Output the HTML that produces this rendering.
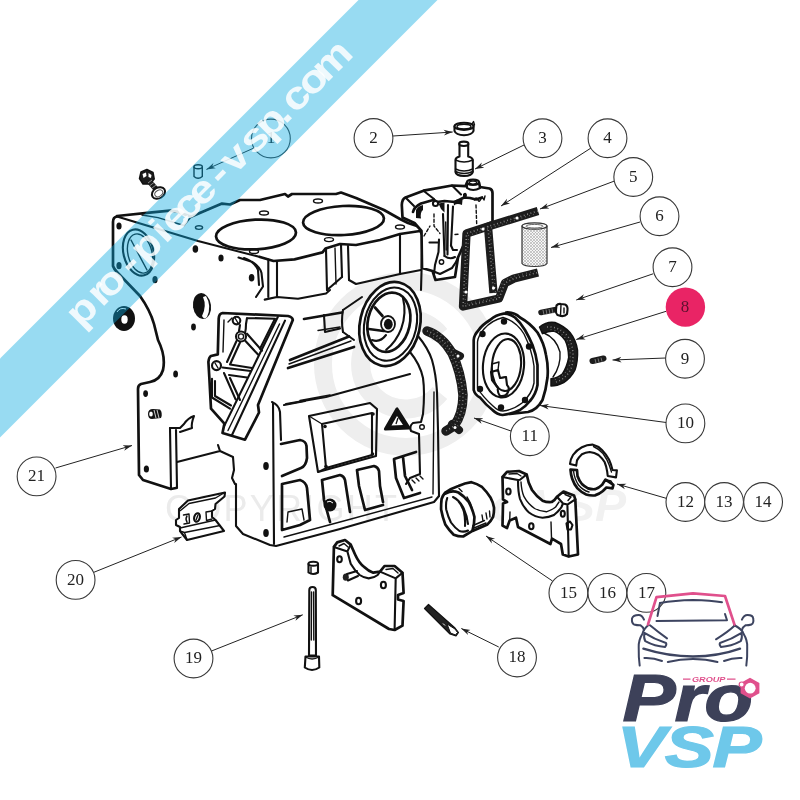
<!DOCTYPE html>
<html><head><meta charset="utf-8"><title>Bloc moteur</title>
<style>
html,body{margin:0;padding:0;background:#fff;}
body{width:800px;height:800px;overflow:hidden;position:relative;}
svg{position:absolute;left:0;top:0;display:block;will-change:transform;opacity:.999;}
.num{font-family:"Liberation Serif",serif;font-size:17px;fill:#222;text-anchor:middle;}
.c{fill:#fff;stroke:#383838;stroke-width:1.100;}
.ld{stroke:#222;stroke-width:1;fill:none;}
.k{fill:none;stroke:#111;stroke-width:2.1;stroke-linecap:round;stroke-linejoin:round;}
.k2{fill:none;stroke:#111;stroke-width:2.7;stroke-linecap:round;stroke-linejoin:round;}
.k1{fill:none;stroke:#111;stroke-width:1.4;stroke-linecap:round;stroke-linejoin:round;}
.f{fill:#111;stroke:none;}
.w{fill:#fff;}
</style></head><body>
<svg width="800" height="800" viewBox="0 0 800 800">
<defs>
<marker id="ah" viewBox="0 0 10 10" refX="10" refY="5" markerWidth="9" markerHeight="9" orient="auto" markerUnits="userSpaceOnUse"><path d="M0,1.8 L10,5 L0,8.2 L3,5 Z" fill="#222"/></marker>
</defs>

<!--WATERMARK-->
<g id="wm">
<circle cx="406" cy="364" r="83" fill="none" stroke="#eeeeee" stroke-width="18"/>
<path d="M440,335 A45,45 0 1 0 440,393" fill="none" stroke="#eeeeee" stroke-width="19"/>
<text x="165" y="520.500" style="font-family:'Liberation Sans',sans-serif;font-size:36px;fill:#ebebeb" textLength="232" lengthAdjust="spacing">COPYRIGHT</text>
<text x="442" y="520.500" style="font-family:'Liberation Sans',sans-serif;font-weight:bold;font-style:italic;font-size:44px;fill:#f1f1f1" textLength="184" lengthAdjust="spacingAndGlyphs">Pro VSP</text>
</g>

<g id="block">
<!-- left plate outline -->
<path class="k2" d="M117,216.500 Q113,217 113,222 L113,266 Q114,269 117,272 L140,296 Q150,310 154,324 L158,340 Q166,356 163,370 Q160,380 150,382 L141,384 Q138,385 138,389 L139,475 L143,480 L171,489 L176,488"/>
<path class="k" d="M117,216.500 L198,241 L260,257"/>
<path class="k2" d="M117,216 L152,212.400 L170,210.600 L177,211.500 L191,216.800 L222,203.600 L230,204.500 L240,200 L260,200 L285,194 L288,196.500 L292,194 L336,194 L341,192.500 L356,198 L384,210 L400,219 L408,223 L420,227"/>
<path class="k1" d="M142,215 L158,217.600 L184,225.500 L191,217"/>
<!-- large circle on plate -->
<ellipse class="k" cx="138.500" cy="252.500" rx="15" ry="23.500" transform="rotate(-14 138.500 252.500)"/>
<ellipse class="k1" cx="140" cy="253.500" rx="12" ry="20" transform="rotate(-14 140 253.500)"/>
<path class="k1" d="M131,240 L147,270"/>
<!-- holes on plate -->
<g class="f">
<ellipse cx="119" cy="226" rx="2.600" ry="3.600"/>
<ellipse cx="119" cy="265.700" rx="2.600" ry="3.600"/>
<ellipse cx="155" cy="279.700" rx="2.600" ry="3.600"/>
<ellipse cx="195.400" cy="249" rx="2.800" ry="3.800"/>
<ellipse cx="221" cy="258" rx="2.600" ry="3.600"/>
<ellipse cx="251.600" cy="277.700" rx="2.800" ry="3.800"/>
<ellipse cx="193.500" cy="327" rx="2.400" ry="3.400"/>
<ellipse cx="175.600" cy="374" rx="2.400" ry="3.600"/>
<ellipse cx="145.600" cy="393.600" rx="2.400" ry="3.400"/>
<ellipse cx="146.400" cy="469" rx="2.600" ry="3.600"/>
<ellipse cx="266" cy="466" rx="2.800" ry="4"/>
<ellipse cx="266" cy="533" rx="2.800" ry="4"/>
</g>
<!-- big hole -->
<ellipse cx="202" cy="306" rx="9" ry="13" fill="#111" transform="rotate(-8 202 306)"/>
<path d="M206,296 Q212,306 207,317 Q204,320 202,316 Q207,306 203,297 Z" fill="#fff"/>
<!-- seal ring outside -->
<ellipse cx="124" cy="318.500" rx="11" ry="12.500" fill="#111"/>
<ellipse cx="124.500" cy="319.500" rx="3.200" ry="4.200" fill="#fff"/>
<path d="M117,312 Q120,307 126,309" stroke="#fff" stroke-width="1" fill="none"/>
<!-- stud -->
<path class="f" d="M148,414 Q148,409 153,409 L160,409.500 Q163,413 161,418 L152,419 Q148,419 148,414 Z"/>
<ellipse cx="151" cy="414" rx="1.800" ry="2.500" fill="#fff"/>
<path d="M154,410 L156,418 M157,410 L159,418" stroke="#fff" stroke-width=".8"/>
<!-- deck holes -->
<g class="k1">
<ellipse cx="199" cy="227.600" rx="3.600" ry="1.800"/>
<ellipse cx="254" cy="251.500" rx="4.500" ry="2"/>
<ellipse cx="264" cy="213" rx="4.500" ry="2"/>
<ellipse cx="318" cy="201" rx="4.500" ry="2"/>
<ellipse cx="329" cy="239.600" rx="4.500" ry="2"/>
<ellipse cx="400" cy="227" rx="4.500" ry="2"/>
</g>
<!-- bores -->
<ellipse class="k2" cx="256" cy="234.500" rx="40" ry="14.800" transform="rotate(-3 256 234.500)"/>
<ellipse class="k2" cx="343.500" cy="220.500" rx="40.500" ry="14.500" transform="rotate(-3 343.500 220.500)"/>
<!-- deck front edge + barrels -->
<path class="k2" d="M260,257 L273.500,261 L294.500,259.400 L322.500,252.400 L325.500,248.500 L340,244 L356,245 L380,240 L400,234 L420,231"/>
<path class="k" d="M268.300,259.500 L268.300,297 M277,262 L277,296"/>
<path class="k" d="M264.700,299.600 L277,297 L298,298.700 L326,293.500 L330,290"/>
<path class="k" d="M326,249 L327,290 M341,244.500 L342,277 M348,246 L349,280"/>
<path class="k1" d="M335,248 L336,284"/>
<path class="k" d="M327,290 Q334,284 342,277 M349,280 L356,284 L400,274 M400,234 L400,274"/>
<path class="k" d="M238.500,257.600 L252.500,262 Q260,267 261.500,273 L263,286.500 L256,297 M244,258 Q255,262 258,270 L259,285"/>
</g>

<g id="block2">
<!-- right barrel right side -->
<path class="k" d="M420,231 L422.500,236 L421,290"/>
<path class="k" d="M400,274 L421,270"/>
<!-- side face ledges -->
<path class="k2" d="M304,319 L342,312.500"/>
<path class="k" d="M324,315 L325,332 L340,328.500"/>
<path class="k1" d="M318,330.500 L340,327"/>
<path class="k2" d="M290,360 L349,336.500"/>
<path class="k1" d="M289,364 L351,341"/>
<path class="k2" d="M288,368 L354,347"/>
<path class="k" d="M286,404 L326,397 L410,374"/>
<path class="k1" d="M300,400.500 L330,395"/>
<path class="k" d="M284,405 L305,401"/>
<!-- neck of filter boss -->
<path class="k" d="M343,310 L362,297 M343,332 L354,340"/>
<path class="k" d="M343,310 Q341,321 343,332"/>
<!-- oil filter boss -->
<g transform="rotate(12.800 390 324)">
<ellipse class="k2 w" cx="390" cy="324" rx="30" ry="42.500"/>
<ellipse class="k" cx="390.500" cy="324" rx="26" ry="37"/>
<ellipse class="k2" cx="388.500" cy="322.500" rx="21" ry="30"/>
<path class="k" d="M397,296 Q404,310 402,326 Q400,340 392,350"/>
</g>
<path class="k2" d="M375,307.500 L382.500,316 M368.700,329 L383.700,331"/>
<path class="k" d="M372,340 Q380,343 386,335"/>
<ellipse cx="388" cy="324" rx="7" ry="8" fill="#fff" stroke="#111" stroke-width="1.800"/>
<ellipse cx="388.300" cy="324.200" rx="4.400" ry="5.400" fill="#111"/>
<!-- timing side panel lines -->
<path class="k" d="M418,336 Q428,348 432,360 Q436,374 437,392 L438,430 L439,496"/>
<path class="k" d="M410,352 Q420,364 423,378 Q425,392 423,414 L421,422 L413,423 Q409,426 411,431 L419,434 L420,474 L410,478 L406,484"/>
<path class="k1" d="M434,392 L433,494"/>
<circle class="k1" cx="422" cy="427" r="2.300"/>
<!-- front pillar -->
<path class="k" d="M272,402 Q279,405 280,412 L281,440 M273,403 L274,544"/>
<path class="k2" d="M281,444 L300,440 Q306,441 306.500,446 L307,458 Q306,466 301,468 L282,476"/>
<path class="k2" d="M282,484 L300,480 Q306,482 307,488 L310,520 M282,484 L282,530 M282,530 L300,525 L310,520"/>
<path class="k1" d="M287,522 L288,512 L302,509 L304,520"/>
<!-- rect cover -->
<path class="k" d="M309,416 L370,403 L377,409 L376,456 L318,472 Z"/>
<path class="k" d="M322,424 L372,413 L372,455 L326,468 Z"/>
<path class="k1" d="M309,416 L322,424 M318,472 L326,468"/>
<circle class="f" cx="325" cy="426.500" r="1.800"/><circle class="f" cx="326" cy="466.500" r="1.800"/>
<circle class="f" cx="373" cy="414" r="1.800"/><circle class="f" cx="372.500" cy="454" r="1.800"/>
<!-- warning triangle -->
<path d="M397,409 L385.500,429 L409,428 Z" fill="#111" stroke="#111" stroke-width="3.200" stroke-linejoin="round"/>
<path d="M397,416 L391.500,425.500 L403,425 Z" fill="#fff"/>
<path d="M398,418 L396,424" stroke="#111" stroke-width="1.300"/>
<!-- pockets -->
<path class="k2" d="M322,480 L340,475 Q344,476 345,480 L350,512 M322,480 L324,500 L330,522"/>
<circle cx="330" cy="505" r="6.500" fill="#111"/><path d="M327,502 Q330,500 333,503" stroke="#fff" stroke-width="1" fill="none"/>
<path class="k2" d="M357,470 L374,466 Q378,467 379,471 L380,486 L383,502 M357,470 L359,486 L365,510 L383,505"/>
<path class="k2" d="M394,459 L416,452 M394,459 L396,478 L404,498 L420,493 M403,457 L405,476 L412,490"/>
<path class="k1" d="M412,480 L415,483 M416,478 L419,481 M420,476 L423,479"/>
<!-- bottom edges -->
<path class="k" d="M236,484 L236,526 L243,534 L270,545 L276,546 L340,529 L434,502 L439,496"/>
<path class="k1" d="M284,537 L340,522 L432,497"/>
<!-- lower-left of block (step) -->
<path class="k" d="M177,462 L220,451 L218,445 M220,451 L233,457 L234,470 L232,478 L235,484"/>
<path class="k" d="M170,428 L171,489 M176,430 L177,488"/>
<path class="k" d="M170,428 L180,428 L184,424 Q188,418 194,416 Q191,424 192,428 L180,432"/>
</g>

<g id="bracket">
<path class="k2 w" d="M222.500,313 L288,316 Q292.500,317 292.800,320 L258,405 L259,412.500 L245,439.700 L222.500,433 L224.400,423.700 L211,408.700 L209.400,378.700 L208.400,362 Q209,357 211,356 L217.800,354.400 L218.700,318.700 Q219,313.500 222.500,313 Z"/>
<path class="k" d="M277.800,317 L224.400,425.600 M285,320.600 L232,435"/>
<path class="k1" d="M279.500,324 L228,430.500"/>
<path class="k" d="M247,318 L275,318.700 L260,348.700 M247,318 L246,324"/>
<path class="k1" d="M224,320 L223,352 M228,322 L232,318"/>
<circle class="k" cx="236.500" cy="320.600" r="3.800"/><path class="k1" d="M235,318 L238,323"/>
<circle class="k" cx="241" cy="336.500" r="5"/><circle class="k1" cx="241" cy="336.500" r="2.600"/>
<circle class="k" cx="216.500" cy="365.600" r="4.500"/><path class="k1" d="M215,363 L218,368"/>
<path class="k" d="M240,325 L239,331 M246,324 Q246,330 245,333"/>
<path class="k" d="M247,333.700 L262,350.600 M245,340.500 L258,354.500"/>
<path class="k" d="M236.500,341 L227,362 M240,342.500 L230,364.500 L252,368"/>
<path class="k" d="M222.500,367.500 L250.600,371 M224,373 L235.600,399.400 M229,375 L247,377.500 M230,378 L240,400"/>
<path class="k" d="M212,378.700 L212,397.500 L230,408.700 M215,381 L215,396 L231,405.500"/>
</g>

<g id="cover">
<!-- clip 2 -->
<path class="k w" d="M454.500,126.500 L454.500,131 Q456,135 464,135.200 Q472,135 473.500,131 L473.500,126.500"/>
<ellipse class="k w" cx="464" cy="126.300" rx="9.500" ry="3.600"/>
<ellipse class="k1" cx="464" cy="126.600" rx="7" ry="2.300"/>
<path class="k1" d="M472,124 L473.500,121.500 L474.500,125"/>
<!-- plug 3 -->
<path class="k w" d="M459.500,144 L459.500,156.500 Q455.500,157.500 455.500,160 L455.500,172 Q456,175.800 464,176 Q472,175.800 472.800,172 L472.800,160 Q472.500,157.500 468.200,156.500 L468.200,144"/>
<ellipse class="k w" cx="463.800" cy="143.800" rx="4.600" ry="2.200"/>
<path class="k1" d="M455.500,160 Q464,164 472.800,160 M455.500,169 Q464,173 472.800,169 M455.500,171.500 Q464,175.500 472.800,171.500"/>
<!-- cover 4 body -->
<path class="k2 w" d="M401.800,205 Q402,199 405.500,197.500 L423.500,190.700 L452,185.500 L465.500,186.200 L467,182.500 Q473,178.500 479,182.500 L480,187 L489.500,188.500 Q492.500,189.500 492.500,193 L492.500,222 L470,231 L458,257.500 L455,277 L435.500,280 L432.500,271 L422,268 L421.500,231 L414.500,223 L402.500,217.500 Z"/>
<ellipse class="k w" cx="473" cy="182.300" rx="6" ry="2.700"/>
<ellipse class="k1" cx="473" cy="182.600" rx="3.800" ry="1.500"/>
<path class="k" d="M467,183 L467,188 Q473,192 480,188"/>
<path class="k2" d="M413,212 Q414,207 421,203.500 L434,199.700 L437,202 L444.500,201 L455,202 L464,197.500 L470,198 L476,199.500 L482,197.500"/>
<path class="k" d="M423.500,190.700 L434,199 M452,185.500 L461,194.500 M405.500,197.500 L414,206"/>
<path class="f" d="M416,210 Q418,206 423,205 L423,210 Q420,212 421,218.500 L416,218 Z M438.500,203.500 L444.500,202.500 L444.500,212.500 L441,209 Z M453.500,201 Q458,198 462.500,200 L462,205 Q457,203 454,205.500 Z M463,194 Q466,191 467,195 L466,199 L463,198 Z"/>
<circle cx="435.500" cy="203.500" r="2.600" fill="#fff" stroke="#111" stroke-width="2"/>
<path class="k1" d="M474.500,200 Q476,196 478,200 Q479,203 481,199 Q482,196 484,200 L485,196"/>
<path class="k" d="M443,214 L444.500,256 M448,205 L447.500,254.500 M453,206.500 L451,245.500"/>
<path class="k1" d="M445.700,222 L446.200,250"/>
<path class="k" d="M429.500,242.500 L438.500,242.500 M439,239.500 L438.500,252 L435,265 L434,274"/>
<circle class="k1" cx="441.500" cy="262" r="2.200"/>
<path class="k" d="M432.500,271 L440,274 L452,268 Q456,263 458,257.500 M444.500,256 Q450,260 455,257 M451,245.500 L453,250 L457,250"/>
<path class="k1" stroke-dasharray="3 2.200" d="M434,214 L434,226 L440,233.500 M476,205 L476.700,224.500 M455,234.500 L460,234 M424,236 L430,226"/>
</g>

<g id="gasket5">
<path d="M538,211 L488,226.500 L466.500,233.500 L463,306.500 L499,298.500 L505,283 L514,278.500 L538,272.500" fill="none" stroke="#1c1c1c" stroke-width="8.300" stroke-linejoin="round" stroke-linecap="butt"/>
<path d="M488,226.500 L493.500,293" fill="none" stroke="#1c1c1c" stroke-width="8.300"/>
<path d="M538,211 L488,226.500 L466.500,233.500 L463,306.500 L499,298.500 L505,283 L514,278.500 L538,272.500 M488,226.500 L493.500,293" fill="none" stroke="#8a8a8a" stroke-width="1.600" stroke-dasharray="0.900 2.600" stroke-linejoin="round"/>
<path d="M536,213.500 L489,228.500 L468.500,235.500 L465,304.500 L497,297 L503,281 L513,276.500 L537,270.500 M490,229 L495.500,292" fill="none" stroke="#777" stroke-width="1.200" stroke-dasharray="0.700 3.300" stroke-dashoffset="1.500" stroke-linejoin="round"/>
<circle cx="483" cy="229" r="1.600" fill="#fff"/><circle cx="466" cy="292" r="1.600" fill="#fff"/><circle cx="493.500" cy="288" r="1.600" fill="#fff"/><circle cx="517" cy="218" r="1.600" fill="#fff"/>
</g>
<g id="filter6">
<defs><pattern id="hatch" width="3" height="3" patternUnits="userSpaceOnUse"><rect width="3" height="3" fill="#f6f6f6"/><path d="M0,0 L3,3 M3,0 L0,3" stroke="#a8a8a8" stroke-width=".6"/></pattern></defs>
<path d="M522,226 L522,263.500 Q524,266.500 534.500,266.500 Q545,266.500 547,263.500 L547,226 Z" fill="url(#hatch)" stroke="#333" stroke-width="1.200"/>
<ellipse cx="534.500" cy="226" rx="12.500" ry="3.200" fill="#fff" stroke="#333" stroke-width="1.200"/>
<ellipse cx="534.500" cy="226.200" rx="8.500" ry="1.800" fill="none" stroke="#555" stroke-width=".9"/>
</g>

<g id="plate20">
<path class="k w" d="M188,500.500 L225,492.500 L224.500,496.500 L215.500,504 L215,509 L212,511 L212,517 L215.500,520 L224,531 L187,540 L180,531 L180,527 L176,525 L176,520 L179,518 L179,509 Z"/>
<path class="k1" d="M180.500,510.500 L189,503.500 L215.500,498 L223,493.500 M180,528 L215.500,520 M184.500,532.500 L220,525.500 M180,531 L184.500,532.500 L187,540"/>
<path class="k1" d="M183.500,515 L189,514 L189.500,523 L184,524 M187,516 Q185,519 187,522"/>
<ellipse class="k" cx="197" cy="517.500" rx="2.800" ry="4.300" transform="rotate(15 197 517.500)"/><path class="k1" d="M196,520 L198,515"/>
<path class="k1" d="M212,511 L206,512 L206.500,520.500 L212,519"/>
</g>
<g id="bolt1">
<path d="M146.900,169.500 L153,172.500 L154.200,179 L150,184 L143,184 L139.500,178.500 L141,172 Z" fill="#1c1c1c" stroke="#111" stroke-width="1.500" stroke-linejoin="round"/>
<path d="M142.500,174 L146,172.500 L146.500,176 L143.500,178 Z M148.500,173 L151.500,175 L151,178 L148.500,177 Z" fill="#fff"/>
<path d="M149,181 L155,188" stroke="#1c1c1c" stroke-width="5.500" stroke-linecap="round"/>
<path d="M148,183 L152,180 M150,185.500 L154,182.500 M152,188 L156,185" stroke="#bbb" stroke-width=".7"/>
<ellipse cx="158.500" cy="193" rx="7" ry="5.300" transform="rotate(-32 158.500 193)" fill="#fff" stroke="#111" stroke-width="2"/>
<ellipse cx="158.800" cy="193.300" rx="4.300" ry="3" transform="rotate(-32 158.800 193.300)" fill="none" stroke="#555" stroke-width="1"/>
</g>
<g id="pin1">
<path class="k1 w" d="M194,167 L194,176.500 Q198,180 202.300,176.500 L202.300,167"/>
<ellipse class="k1 w" cx="198.150" cy="166.800" rx="4.150" ry="2"/>
</g>

<g id="gasket11">
<path d="M427,331 Q442,336 452,353 Q461,372 463,395 Q463,414 454,426 L446,431" fill="none" stroke="#1c1c1c" stroke-width="9.500" stroke-linecap="round"/>
<path d="M452,352 L460,356 M452,424 L459,430" stroke="#1c1c1c" stroke-width="8" stroke-linecap="round"/>
<path d="M427,331 Q442,336 452,353 Q461,372 463,395 Q463,414 454,426 L446,431" fill="none" stroke="#8a8a8a" stroke-width="1.600" stroke-dasharray="0.900 2.700"/>
<path d="M427,334 Q440,338 449.500,354.500 Q458,372 460,395 Q460,412 452,424" fill="none" stroke="#777" stroke-width="1.300" stroke-dasharray="0.800 3.400" stroke-dashoffset="1.700"/>
<path d="M429,328.500 Q444,333.500 454.500,351.500 Q464,371 466,395 Q466,415 457,427" fill="none" stroke="#777" stroke-width="1.300" stroke-dasharray="0.800 3.900" stroke-dashoffset="0.600"/>
<circle cx="458" cy="356" r="1.500" fill="#fff"/><circle cx="455" cy="427.500" r="1.500" fill="#fff"/>
</g>
<g id="flange10">
<path class="k2 w" d="M506,312.500 Q514,312 520,317.500 Q530,323 537.500,332.500 Q544,343 546,355 Q548.500,366 547.500,377.500 Q546,390 542.500,400 Q537,410 528,412 L510,414 L504,330 Z"/>
<path class="k2 w" d="M503.700,313.700 Q496,315 490,320 Q482,325 478.700,330 Q474,335 473.700,340 L473.700,390 Q475,395 480,397.500 Q486,405 492.500,410 Q497,414.500 502.500,415 Q512,414 520,410 Q526,406 530,401 Q536,394 537.500,385 L537.500,365 Q536,354 532.500,345 Q529,337 525,330 Q520,322 515,317.500 Q509,313.500 503.700,313.700 Z"/>
<path class="k1" d="M503,317.500 Q492,320 484,329 Q478,336 477.500,342 L477.500,388 Q482,396 493,406 Q498,411 503,411 Q513,410 522,403 Q532,394 534,383 L534,366 Q532,350 524,334 Q516,321 503,317.500 Z"/>
<ellipse class="k" cx="503.500" cy="365.500" rx="20.500" ry="32" transform="rotate(5 503.500 365.500)"/>
<ellipse class="k" cx="506.500" cy="365" rx="14.500" ry="26" transform="rotate(5 506.500 365)"/>
<path class="k" d="M491,372 L498,370 L500,378 L506,377 L507,385 Q510,388 508,392 Q506,397 500,396 Q497,392 498,388 L492,380 Z"/>
<path class="k1" d="M498,370 L499,362 L492,364 L491,372 M500,378 L506,377"/>
<g class="f"><circle cx="504" cy="321.500" r="3.200"/><circle cx="482.500" cy="334" r="3.200"/><circle cx="529" cy="346.500" r="3.200"/><circle cx="480" cy="389" r="3.200"/><circle cx="501" cy="407.500" r="3.200"/><circle cx="525" cy="400" r="3.200"/></g>
</g>
<g id="seal8">
<path d="M539.500,327 Q547,321 555,322.500 Q564,326 570,332.500 Q576,340 577.500,350 Q578,361 575,370 Q571,378 563.700,382.500 Q557,386 551,386 L551,378.700 Q558,378 562.500,373.700 Q567,367 568.700,357.500 Q568.500,347 565,340 Q560,333 553.700,331 Q548,331 542.500,333.700 Z" fill="#1c1c1c" stroke="#111" stroke-width="1.500" stroke-linejoin="round"/>
<path d="M547,327 Q560,326 569,338 Q575,350 572,366 Q568,378 556,382" fill="none" stroke="#888" stroke-width="1.500" stroke-dasharray="0.900 2.600"/><path d="M548,329.500 Q558,329 566.500,339.500 Q572,350 569.500,365 Q566,375 555,379.500" fill="none" stroke="#777" stroke-width="1.200" stroke-dasharray="0.800 3.300" stroke-dashoffset="1.500"/>
<path class="k1" d="M544,333 Q556,338 560,352 Q561,366 553,377"/>
</g>
<g id="bolt7">
<path d="M541,312.500 L556,309.500" stroke="#1c1c1c" stroke-width="5.500" stroke-linecap="round"/>
<path d="M543,310 L544,315 M546,309.500 L547,314.500 M549,309 L550,314 M552,308.500 L553,313.500" stroke="#999" stroke-width=".7"/>
<path class="k w" d="M556.500,305.500 Q558,303.500 561,304 L565,304.500 Q568,306 567.500,310 L567,314 Q565,316.500 561,316 L557.500,315 Q555.500,313 556,310 Z"/>
<path class="k1" d="M561,304.500 L560.500,316 M564,308 L564,313"/>
</g>
<g id="pin9"><path d="M592.500,361 L603.500,358.500" stroke="#1c1c1c" stroke-width="6" stroke-linecap="round"/><path d="M595,359 L596,363 M598,358.300 L599,362.300 M601,357.600 L602,361.600" stroke="#999" stroke-width=".7"/></g>

<g id="shell15">
<path class="k2 w" d="M445.300,492.500 Q451,488.500 458.400,486 Q465,483 471.500,482.200 Q477,483.500 481.900,486.900 Q486.500,491.500 490.300,497.200 Q493,502 494,507.500 Q494.200,512.500 493.100,516.900 Q491,521 487.500,524.400 L472.500,530.900 L463.100,536.500 Q458,536.500 453.700,534.700 Q449,530 445.300,524.400 Q442.500,517 441.100,509.400 Q441,504 441.600,499 Q443,495 445.300,492.500 Z"/>
<path class="k2" d="M445.500,493.500 Q452,490 458.400,492.500 Q464,496 468.700,501.900 Q472.500,509 474.400,516.900 Q474.500,524 472.500,530.500"/>
<path class="k" d="M447.200,498 Q445.500,503 446.200,509.400 Q448,516.500 451,522.500 Q455,528 459.400,531 Q464,532.500 468,530.500"/>
<path class="k" d="M453,497 Q459,500 463,507 Q467,515 468,524 M457.500,500 Q462,505 464,512 Q465.500,519 465,526"/>
<path class="k1" d="M459,488.500 L462,491.500 M467,497 Q471,503 472.500,510 M474,528 L486,523 M473,525.500 L484.500,520.500 M482,515 L483,521 M486,513 L487,519 M489.500,511 L490,517"/>
</g>
<g id="capR">
<path class="k2 w" d="M502.500,477 L507,471.800 L519,471 L526.700,474.400 Q528,483 532,490 Q537,497 542.500,500.700 Q547,502.500 551.700,502 Q555,500 557,496.700 L563.500,491.500 L574,495.400 L575.300,499.400 L578,554.500 L568.700,556.500 L562.800,554.500 L561,544 L552,538.700 L550.400,544 L518,527 L516,517.700 L509.700,520.400 L507,528 L502.500,525.600 L503,503.500 L507,502 L503,499.400 Z"/>
<path class="k" d="M502.500,477 L518,480 L520,479.700 L526.700,474.400 M518,480 Q518,492 520,499 Q523,507 529,512.500 Q535,517 542.500,517.700 Q549,517.500 554,515 Q559,511 561.500,507 L563,503.500 L567.400,504.600 L575.300,499.400 M567.400,504.600 L568.700,556.500 M557,496.700 L563,503.500"/>
<path class="k1" d="M521,482 Q521.500,491 524,496.700 Q528,504 534.600,508.500 Q540,511.500 546.400,511.800 Q552,510 555.600,507 L559,502"/>
<path class="k1" d="M509,474 L517,473.500 L521,476 M565,494.500 L571,497 L568,500.500"/>
<ellipse class="k" cx="508.400" cy="491.500" rx="2.200" ry="3"/><ellipse class="k" cx="531.300" cy="526.300" rx="2.200" ry="3"/><ellipse class="k" cx="562.800" cy="513.800" rx="2" ry="3"/>
<path class="k" d="M566.500,523.500 L570,521.500 L572.500,525 L571,529.500 L567.500,529.500 Z"/>
<path class="k1" d="M551,522 L551.500,538 M509.700,520.400 L510,512"/>
</g>
<g id="ring12">
<path class="k w" d="M570,463.900 Q570.500,459 573,455 Q576.500,450 581.900,447.200 Q587,444.600 592.400,444.600 Q598,446 602,449.900 Q606,454 609,459.500 Q611.500,465 612.500,470 L616.900,470.400 L616,477.400 L607.700,476 L607.200,471.700 Q606.500,466.500 604.600,462 Q602,458 598.500,455 Q594.500,452.500 589.700,452 Q585.500,452.500 581.900,454.200 Q579,457 577,460.400 L576.200,465.600 Z"/>
<path class="k1" d="M593.500,446.500 Q599,449 603,453.500 Q607,459 609.200,465 L611.500,472"/>
<path class="k2 w" d="M570.500,469.600 Q570.800,474.500 572.200,478.700 Q574,484 577.500,488.400 Q581.500,492.500 586.200,494.500 Q590.500,495.800 595,495.400 Q599.500,494 602.900,491 L606.400,487.500 L612.500,488.400 L613.400,484.900 L605.500,479.600 L602,484.900 Q599,488 595,489.200 Q591.500,489.500 588,488.400 Q584.500,486.500 581.900,484 Q579,480.500 577.500,476 L577,470 Z"/>
<path class="k1" d="M573.500,471 Q574.500,479 578.500,485 Q583,490.500 589,492 M605.500,479.600 L611,481 L613.400,484.900"/>
</g>

<g id="capL">
<path class="k2 w" d="M333.900,546.900 L337.200,542.400 L345,540 L350.700,544.600 L355.200,554.700 Q359,563 364.200,567 Q369,571.500 373.200,572.700 L380,571.600 L384.500,566 L394.600,566 L402.500,572.700 L403.600,593 L398,595 L398,599.500 L403.600,601 L402.500,625.600 L394.600,630 L389,629 L332.700,595.200 Z"/>
<path class="k" d="M333.900,546.900 L347.400,551.400 L350.700,563.700 Q355,571 359.700,575 Q364,578 368.700,578.400 Q374,578 377.700,575 L380,571.600 L395.700,578.400 L394.600,630 M347.400,551.400 L350.700,544.600 M395.700,578.400 L402.500,572.700"/>
<path class="k1" d="M339,546 L344,543.500 L348,547 M386,569.500 L393,568.500 L398,573"/>
<ellipse class="k" cx="339.500" cy="559.200" rx="2.300" ry="3"/>
<ellipse class="k" cx="383.400" cy="585" rx="2.500" ry="3.300"/>
<ellipse class="k" cx="358.600" cy="601" rx="2.500" ry="3.300"/>
<ellipse cx="345.800" cy="577.200" rx="3" ry="3.600" fill="#222"/>
<path class="k" d="M347,574 L357,571 M348,580.500 L358,576"/>
</g>
<g id="dowel"><path class="k w" d="M308.500,564 L308.500,572.500 Q313,575.500 318,572.500 L318,564"/><ellipse class="k w" cx="313.250" cy="563.800" rx="4.750" ry="2"/><path class="k1" d="M311,567 L311,573"/></g>
<g id="bolt19">
<path class="k w" d="M309.300,590 Q309.300,587 312.500,587 Q315.800,587 315.800,590 L316,655.500 L309,655.500 Z"/>
<path class="k1" d="M311.500,592 L311.300,640 M313.600,592 L313.800,640"/>
<path class="k w" d="M305.500,656.500 L319,656.500 L319.300,667.500 Q312,672.500 304.800,667.500 Z"/>
<path class="k1" d="M305.500,657 Q312,661 319,657"/>
</g>
<g id="pin18">
<path d="M428.500,604.500 L424.500,608.500 L450,634 L456,636 L458.500,632.500 L455,628 Z" fill="#222" stroke="#111" stroke-width="1.200" stroke-linejoin="round"/>
<path d="M447,624 L455,629 L457.500,632.500 L455.500,635 L450.500,633 Z" fill="#fff" stroke="#111" stroke-width="1"/>
<path d="M443,623.500 L445,625.500" stroke="#fff" stroke-width="1"/>
</g>


<!--LEADERS-->
<g class="ld" marker-end="url(#ah)">
<line x1="255" y1="147.500" x2="206.400" y2="169.400"/>
<line x1="393" y1="136" x2="452.700" y2="132"/>
<line x1="524" y1="145" x2="475" y2="169"/>
<line x1="591" y1="148" x2="501" y2="206"/>
<line x1="614.500" y1="181" x2="540" y2="209"/>
<line x1="640" y1="222" x2="551" y2="247.500"/>
<line x1="653.250" y1="273.750" x2="576.250" y2="300"/>
<line x1="666.250" y1="311.250" x2="576.250" y2="339.500"/>
<line x1="665.750" y1="358" x2="612.500" y2="360"/>
<line x1="666.250" y1="422.500" x2="540" y2="405.500"/>
<line x1="511" y1="431" x2="474" y2="418"/>
<line x1="666.500" y1="498.400" x2="617" y2="484"/>
<line x1="552.500" y1="581" x2="486" y2="536"/>
<line x1="498.750" y1="647" x2="461.300" y2="628.500"/>
<line x1="211.500" y1="651" x2="302.750" y2="614.800"/>
<line x1="93.600" y1="572.400" x2="181.500" y2="537"/>
<line x1="55.500" y1="468" x2="132" y2="445.500"/>
</g>
<!--CIRCLES-->
<g>
<circle class="c" cx="270.900" cy="138.500" r="19.400"/><text class="num" x="270.9" y="143.3">1</text>
<circle class="c" cx="373.500" cy="138" r="19.400"/><text class="num" x="373.5" y="142.8">2</text>
<circle class="c" cx="542.500" cy="138.250" r="19.400"/><text class="num" x="542.5" y="143.0">3</text>
<circle class="c" cx="607.500" cy="138.250" r="19.400"/><text class="num" x="607.5" y="143.0">4</text>
<circle class="c" cx="633.250" cy="177" r="19.400"/><text class="num" x="633.2" y="181.8">5</text>
<circle class="c" cx="659.500" cy="216.250" r="19.400"/><text class="num" x="659.5" y="221.0">6</text>
<circle class="c" cx="672.500" cy="267.250" r="19.400"/><text class="num" x="672.5" y="272.0">7</text>
<circle cx="685.400" cy="307.100" r="19.700" fill="#e92465"/><text class="num" x="685.0" y="311.8" style="fill:#3a0c20;fill-opacity:.8">8</text>
<circle class="c" cx="685" cy="358.750" r="19.400"/><text class="num" x="685.0" y="363.5">9</text>
<circle class="c" cx="685.400" cy="423.400" r="19.400"/><text class="num" x="685.4" y="428.2">10</text>
<circle class="c" cx="529.800" cy="436.250" r="19.400"/><text class="num" x="529.8" y="441.0">11</text>
<circle class="c" cx="685.400" cy="502" r="19.400"/><text class="num" x="685.4" y="506.8">12</text>
<circle class="c" cx="724.100" cy="502" r="19.400"/><text class="num" x="724.1" y="506.8">13</text>
<circle class="c" cx="763.100" cy="502" r="19.400"/><text class="num" x="763.1" y="506.8">14</text>
<circle class="c" cx="568.400" cy="592.900" r="19.400"/><text class="num" x="568.4" y="597.7">15</text>
<circle class="c" cx="607.400" cy="592.900" r="19.400"/><text class="num" x="607.4" y="597.7">16</text>
<circle class="c" cx="646.400" cy="592.900" r="19.400"/><text class="num" x="646.4" y="597.7">17</text>
<circle class="c" cx="517" cy="657.500" r="19.400"/><text class="num" x="517.0" y="662.3">18</text>
<circle class="c" cx="193.500" cy="658.500" r="19.400"/><text class="num" x="193.5" y="663.3">19</text>
<circle class="c" cx="75.600" cy="579.900" r="19.400"/><text class="num" x="75.6" y="584.7">20</text>
<circle class="c" cx="36.600" cy="476.400" r="19.400"/><text class="num" x="36.6" y="481.2">21</text>
</g>
<g id="logo">
<g fill="none" stroke="#3d4460" stroke-width="2" stroke-linecap="round" stroke-linejoin="round">
<path d="M660,603 Q675,600.300 693,600 Q711,600.300 722,602.300"/>
<path d="M660,603 L657.500,616"/>
<path d="M656.500,621 L727,620.300 L725,614"/>
<path d="M644,619.700 Q642,615 638.700,615 Q633,615 632,618.500 Q631.500,623 634,624.500 Q638,625.500 640.600,625.300 Q643.500,627 644,630"/>
<path d="M741.900,619.700 Q744,615 747.500,615 Q753,615 753.200,618.500 Q754,623 751.500,624.500 Q748,625.500 745.400,625.300 Q742.500,627 741.900,630"/>
<path d="M648.500,625 Q643.500,629 642.500,633.700 Q638.500,640 638.700,647 Q638.500,657 639.700,665.600"/>
<path d="M734,625 Q742,629 743.500,633.700 Q747.500,640 747.200,647 Q747.500,657 746.300,665.600"/>
<path d="M650,625.300 Q658,632 667,638.400 M735,625.300 Q728,632 716,639.300"/>
<path d="M644.400,632.800 Q643.500,638 645.300,641.200 Q655,646.500 665,646.900 Q667,645 666,643 Q654,639 644.400,632.800 Z"/>
<path d="M741.600,632.800 Q742.500,638 740.700,641.200 Q731,646.500 721,646.900 Q719,645 720,643 Q732,639 741.600,632.800 Z"/>
<path d="M643.400,648.700 Q668,656.500 693,656.500 Q718,656.500 740,648.700" stroke-width="2.400"/>
<path d="M667.800,662 Q680,659 693,659 Q706,659 717.500,662" stroke-width="2"/>
<path d="M644.400,658 Q653,657.500 662,661 M741.600,658 Q733,657.500 724,661" stroke-width="2"/>
</g>
<path d="M648,624.400 L656.500,597.200 L693,593.400 L725,596 L734.400,624.400" fill="none" stroke="#e0508c" stroke-width="2.700" stroke-linejoin="round" stroke-linecap="round"/>
<text transform="translate(622.500,721.300) scale(1.190,1)" style="font-family:'Liberation Sans',sans-serif;font-weight:bold;font-style:italic;font-size:67px;fill:#3d4159;stroke:#3d4159;stroke-width:1.200px;letter-spacing:-1px">Pro</text>
<text transform="translate(617,767.300) scale(1.290,1)" style="font-family:'Liberation Sans',sans-serif;font-weight:bold;font-style:italic;font-size:57px;fill:#6ec8ea;stroke:#6ec8ea;stroke-width:1.200px;letter-spacing:-1px">VSP</text>
<text x="708.700" y="682" text-anchor="middle" style="font-family:'Liberation Sans',sans-serif;font-weight:bold;font-style:italic;font-size:7.800px;fill:#e0508c" textLength="33.500" lengthAdjust="spacingAndGlyphs">GROUP</text>
<path d="M683,679.200 L690.500,679.200 M727,679.200 L735.500,679.200" stroke="#e0508c" stroke-width="1.200"/>
<path d="M750,677.700 L759.400,683 L759.400,693.200 L750,698.500 L740.600,693.200 L740.600,683 Z" fill="#e0508c"/>
<circle cx="750.200" cy="688.200" r="5.400" fill="#fff"/>
<circle cx="741.700" cy="684.500" r="2.500" fill="#fff" stroke="#e0508c" stroke-width="1.200"/>
</g>

<!--BANNER-->
<g>
<polygon points="358.500,0 437.500,0 0,437.500 0,358.500" fill="#0aaae1" fill-opacity="0.42"/>
<text transform="translate(199,199) rotate(-45) scale(1.16,1)" x="-139.2 -118.1 -104.7 -81.6 -60.8 -42.7 -26.1 -11.0 6.7 27.5 47.2 70.7 90.5 103.1 121.2 141.6 165.5" y="8.500" text-anchor="middle" style="font-family:'Liberation Sans',sans-serif;font-weight:bold;font-size:39px;fill:#fff;fill-opacity:.85">pro-piece-vsp.com</text>
</g>
</svg>
</body></html>
